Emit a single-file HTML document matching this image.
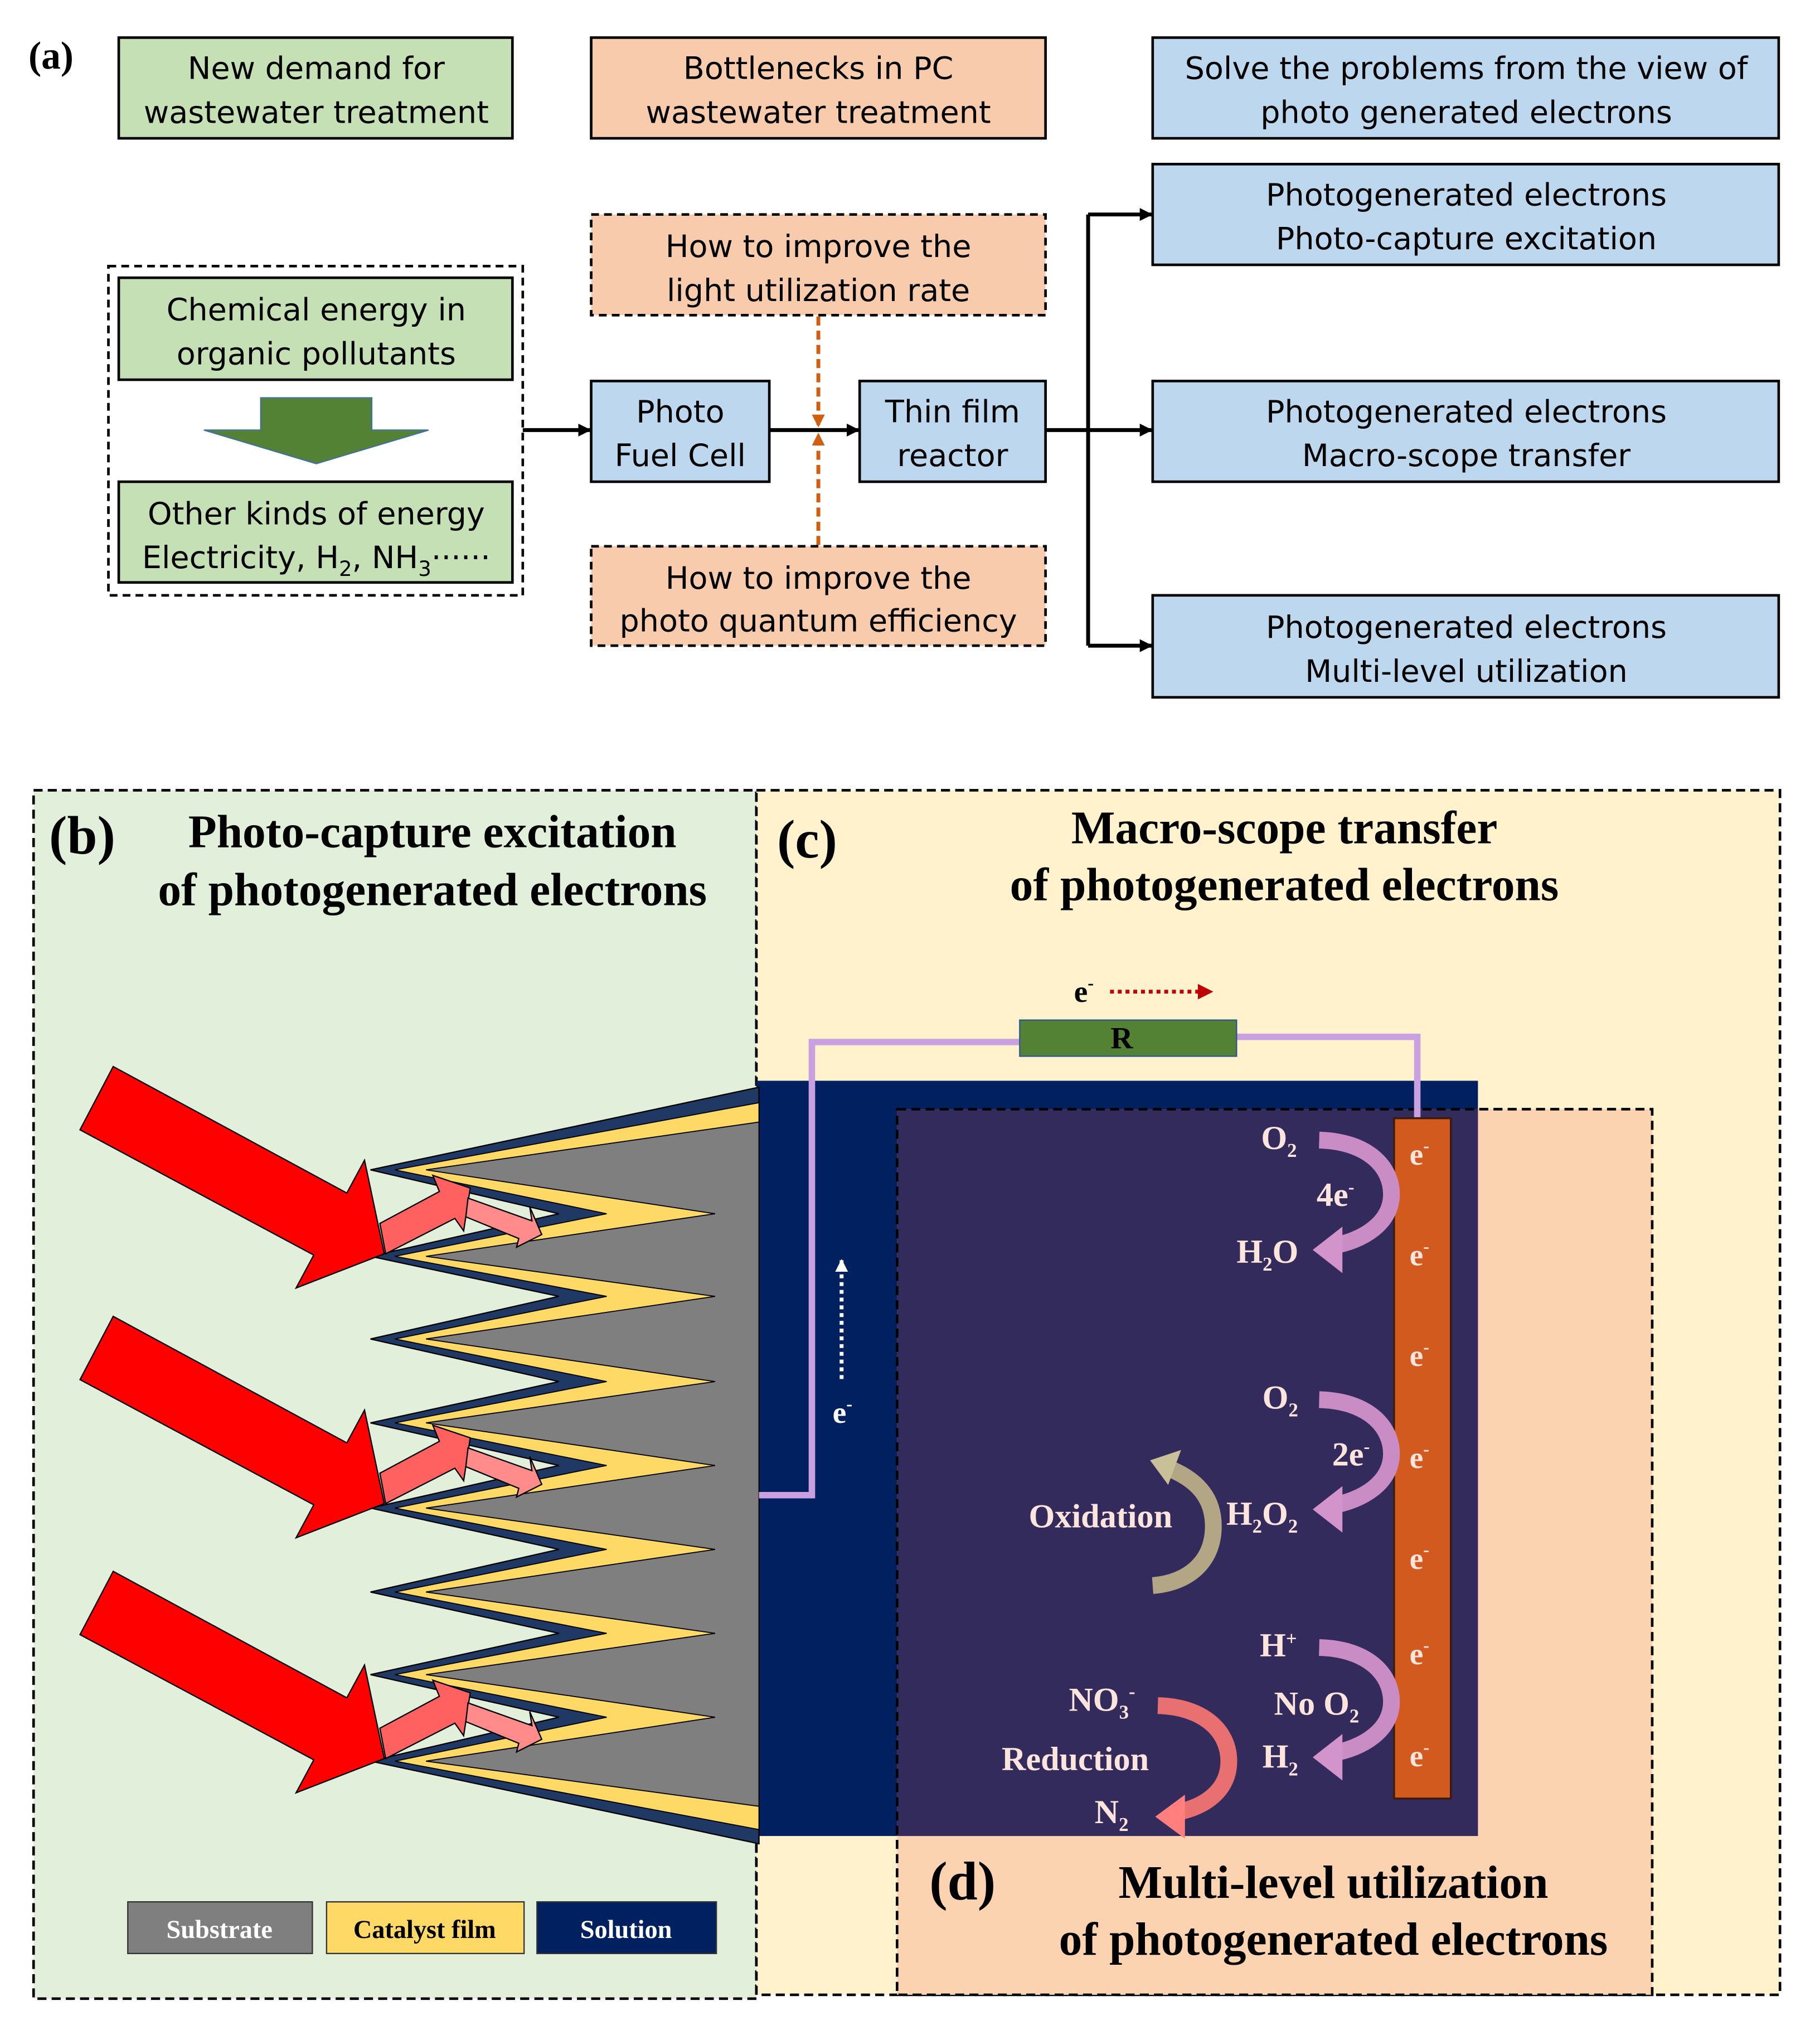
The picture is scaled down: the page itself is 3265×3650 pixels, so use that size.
<!DOCTYPE html>
<html><head><meta charset="utf-8"><style>
html,body{margin:0;padding:0;background:#fff}
svg{display:block}
.s{font-family:"DejaVu Sans","Liberation Sans",sans-serif;font-size:24px;fill:#000;text-anchor:middle}
.t{font-family:"Liberation Serif",serif;font-weight:bold;fill:#000}
.w{font-family:"Liberation Serif",serif;font-weight:bold;fill:#fde4dc;font-size:26px}
</style></head><body>
<svg width="3265" height="3650" viewBox="0 0 1410 1576" xmlns="http://www.w3.org/2000/svg">
<defs>
<marker id="ah" markerWidth="10" markerHeight="10" refX="9" refY="5" orient="auto" markerUnits="userSpaceOnUse"><path d="M0,0 L10,5 L0,10 z" fill="#000"/></marker>
<marker id="ao" markerWidth="10" markerHeight="10" refX="9" refY="5" orient="auto" markerUnits="userSpaceOnUse"><path d="M0,0 L10,5 L0,10 z" fill="#d06010"/></marker>
<marker id="ar" markerWidth="12" markerHeight="12" refX="10" refY="6" orient="auto" markerUnits="userSpaceOnUse"><path d="M0,0 L12,6 L0,12 z" fill="#c00000"/></marker>
<marker id="aw" markerWidth="10" markerHeight="10" refX="9" refY="5" orient="auto" markerUnits="userSpaceOnUse"><path d="M0,0 L10,5 L0,10 z" fill="#fff"/></marker>
</defs>
<rect width="1410" height="1576" fill="#fff"/>
<!-- (a) -->
<text x="22" y="53" class="t" font-size="30">(a)</text>
<g stroke="#000" stroke-width="2">
<rect x="92" y="29" width="305" height="78" fill="#c5e0b4"/>
<rect x="458" y="29" width="352" height="78" fill="#f8cbad"/>
<rect x="893" y="29" width="485" height="78" fill="#bdd7ee"/>
<rect x="84" y="206" width="321" height="255" fill="none" stroke-dasharray="6,4"/>
<rect x="92" y="215" width="305" height="79" fill="#c5e0b4"/>
<rect x="92" y="373" width="305" height="78" fill="#c5e0b4"/>
<rect x="458" y="295" width="138" height="78" fill="#bdd7ee"/>
<rect x="666" y="295" width="144" height="78" fill="#bdd7ee"/>
<rect x="458" y="166" width="352" height="78" fill="#f8cbad" stroke-dasharray="6,4"/>
<rect x="458" y="423" width="352" height="77" fill="#f8cbad" stroke-dasharray="6,4"/>
<rect x="893" y="127" width="485" height="78" fill="#bdd7ee"/>
<rect x="893" y="295" width="485" height="78" fill="#bdd7ee"/>
<rect x="893" y="461" width="485" height="79" fill="#bdd7ee"/>
</g>
<polygon points="202,308 288,308 288,333 332,333 245,359 158,333 202,333" fill="#548235" stroke="#41719c" stroke-width="1"/>
<g stroke="#000" stroke-width="3" fill="none">
<line x1="405" y1="333" x2="457" y2="333" marker-end="url(#ah)"/>
<line x1="596" y1="333" x2="665" y2="333" marker-end="url(#ah)"/>
<line x1="810" y1="333" x2="843" y2="333"/>
<line x1="843" y1="166" x2="843" y2="500"/>
<line x1="843" y1="166" x2="892" y2="166" marker-end="url(#ah)"/>
<line x1="843" y1="333" x2="892" y2="333" marker-end="url(#ah)"/>
<line x1="843" y1="500" x2="892" y2="500" marker-end="url(#ah)"/>
</g>
<g stroke="#d06010" stroke-width="3" stroke-dasharray="7,4" fill="none">
<line x1="634" y1="245" x2="634" y2="330" marker-end="url(#ao)"/>
<line x1="634" y1="422" x2="634" y2="336" marker-end="url(#ao)"/>
</g>
<g class="s">
<text x="245" y="61">New demand for</text><text x="245" y="95">wastewater treatment</text>
<text x="634" y="61">Bottlenecks in PC</text><text x="634" y="95">wastewater treatment</text>
<text x="1136" y="61">Solve the problems from the view of</text><text x="1136" y="95">photo generated electrons</text>
<text x="245" y="248">Chemical energy in</text><text x="245" y="282">organic pollutants</text>
<text x="245" y="406">Other kinds of energy</text><text x="245" y="440">Electricity, H<tspan font-size="16" dy="6">2</tspan><tspan dy="-6">, NH</tspan><tspan font-size="16" dy="6">3</tspan><tspan dy="-6">······</tspan></text>
<text x="527" y="327">Photo</text><text x="527" y="361">Fuel Cell</text>
<text x="738" y="327">Thin film</text><text x="738" y="361">reactor</text>
<text x="634" y="199">How to improve the</text><text x="634" y="233">light utilization rate</text>
<text x="634" y="456">How to improve the</text><text x="634" y="489">photo quantum efficiency</text>
<text x="1136" y="159">Photogenerated electrons</text><text x="1136" y="193">Photo-capture excitation</text>
<text x="1136" y="327">Photogenerated electrons</text><text x="1136" y="361">Macro-scope transfer</text>
<text x="1136" y="494">Photogenerated electrons</text><text x="1136" y="528">Multi-level utilization</text>
</g>
<!-- backgrounds -->
<rect x="26" y="612" width="560" height="936" fill="#e2efda" stroke="#000" stroke-width="2" stroke-dasharray="7,4"/>
<rect x="586" y="612" width="793" height="933" fill="#fff2cc" stroke="#000" stroke-width="2" stroke-dasharray="7,4"/>
<rect x="586" y="837" width="559" height="585" fill="#002060"/>
<rect x="695" y="859" width="585" height="686" fill="#fbd3b0"/>
<rect x="695" y="859" width="450" height="563" fill="#332b5c"/>
<rect x="695" y="859" width="585" height="686" fill="none" stroke="#000" stroke-width="2" stroke-dasharray="7,4"/>
<!-- zigzag -->
<polygon points="588,842 287,906 433,940 287,973 433,1004 287,1037 433,1070 287,1102 433,1135 287,1168 433,1200 287,1233 433,1265 287,1297 433,1330 287,1364 588,1428" fill="#1f3864" stroke="#000" stroke-width="1"/>
<polygon points="588,854 306,906 470,940 306,973 470,1004 306,1037 470,1070 306,1102 470,1135 306,1168 470,1200 306,1233 470,1265 306,1297 470,1330 306,1364 588,1417" fill="#ffd966" stroke="#000" stroke-width="0.8"/>
<polygon points="588,869 330,906 554,940 330,973 554,1004 330,1037 554,1070 330,1102 554,1135 330,1168 554,1200 330,1233 554,1265 330,1297 554,1330 330,1364 588,1399" fill="#7f7f7f" stroke="#000" stroke-width="0.8"/>
<!-- arrows -->
<g id="arr">
<polygon points="87.7,826 268.7,924 282.4,898.6 297.7,971 229.4,997.5 243.1,972 62,875" fill="#ff0000" stroke="#000" stroke-width="1"/>
<polygon points="294.3,947.5 340.4,922.8 335.3,910.3 364.3,920.1 359.2,953.3 352.4,943.6 298.8,971" fill="#ff6161" stroke="#000" stroke-width="1"/>
<polygon points="362.6,927.9 412.1,945.5 410.4,934.6 419.7,956.1 400.2,965.9 401.9,959.2 360.9,942.4" fill="#ff8b8b" stroke="#000" stroke-width="1"/>
</g>
<use href="#arr" transform="translate(0,193.5)"/>
<use href="#arr" transform="translate(0,391)"/>
<!-- wire -->
<polyline points="588,1158 629,1158 629,807 790,807" fill="none" stroke="#c9a0e0" stroke-width="5"/>
<polyline points="958,803 1098,803 1098,866" fill="none" stroke="#c9a0e0" stroke-width="5"/>
<rect x="790" y="790" width="168" height="28" fill="#548235" stroke="#2f5597" stroke-width="1"/>
<text x="869" y="812" class="t" font-size="24" text-anchor="middle">R</text>
<text x="832" y="776" class="t" font-size="24">e<tspan font-size="14" dy="-10">-</tspan></text>
<line x1="860" y1="768" x2="938" y2="768" stroke="#c00000" stroke-width="3" stroke-dasharray="3,3" marker-end="url(#ar)"/>
<line x1="652" y1="1068" x2="652" y2="976" stroke="#fff" stroke-width="3" stroke-dasharray="3,3" marker-end="url(#aw)"/>
<text x="645" y="1102" class="t" font-size="24" style="fill:#fff">e<tspan font-size="14" dy="-10">-</tspan></text>
<!-- electrode -->
<rect x="1080" y="866" width="44" height="527" fill="#d35a1e" stroke="#3a1a0a" stroke-width="1.5"/>
<g class="w" style="fill:#fde4dc;font-size:24px">
<text x="1092" y="902">e<tspan font-size="14" dy="-10">-</tspan></text>
<text x="1092" y="980">e<tspan font-size="14" dy="-10">-</tspan></text>
<text x="1092" y="1058">e<tspan font-size="14" dy="-10">-</tspan></text>
<text x="1092" y="1137">e<tspan font-size="14" dy="-10">-</tspan></text>
<text x="1092" y="1215">e<tspan font-size="14" dy="-10">-</tspan></text>
<text x="1092" y="1289">e<tspan font-size="14" dy="-10">-</tspan></text>
<text x="1092" y="1368">e<tspan font-size="14" dy="-10">-</tspan></text>
</g>
<!-- curved arrows -->
<g id="ca">
<path d="M1022,883 C1060,884 1078,904 1078,925 C1078,947 1056,961 1032,965" fill="none" stroke="#c98cc4" stroke-width="13"/>
<polygon points="1017,968 1040,950 1040,986" fill="#d394cc"/>
</g>
<use href="#ca" transform="translate(0,201)"/>
<use href="#ca" transform="translate(0,393)"/>
<path d="M893,1228 C920,1226 940,1210 940,1182 C940,1158 925,1145 905,1137" fill="none" stroke="#b3a684" stroke-width="13"/>
<polygon points="891,1131 915,1123 905,1150" fill="#c9bf98"/>
<path d="M897,1321 C934,1322 952,1342 952,1364 C952,1387 933,1400 910,1404" fill="none" stroke="#e87070" stroke-width="13"/>
<polygon points="895,1407 918,1390 918,1424" fill="#ff7f7f"/>
<g class="w">
<text x="977" y="890">O<tspan font-size="15" dy="6">2</tspan></text>
<text x="1020" y="934">4e<tspan font-size="14" dy="-10">-</tspan></text>
<text x="958" y="978">H<tspan font-size="15" dy="6">2</tspan><tspan dy="-6">O</tspan></text>
<text x="978" y="1091">O<tspan font-size="15" dy="6">2</tspan></text>
<text x="1032" y="1135">2e<tspan font-size="14" dy="-10">-</tspan></text>
<text x="950" y="1181">H<tspan font-size="15" dy="6">2</tspan><tspan dy="-6">O</tspan><tspan font-size="15" dy="6">2</tspan></text>
<text x="797" y="1183">Oxidation</text>
<text x="976" y="1283">H<tspan font-size="15" dy="-9">+</tspan></text>
<text x="987" y="1328">No O<tspan font-size="15" dy="6">2</tspan></text>
<text x="978" y="1369">H<tspan font-size="15" dy="6">2</tspan></text>
<text x="828" y="1325">NO<tspan font-size="15" dy="6">3</tspan><tspan font-size="15" dy="-16">-</tspan></text>
<text x="776" y="1371">Reduction</text>
<text x="848" y="1412">N<tspan font-size="15" dy="6">2</tspan></text>
</g>
<!-- titles -->
<text x="38" y="661" class="t" font-size="42">(b)</text>
<text x="335" y="656" class="t" font-size="36" text-anchor="middle">Photo-capture excitation</text>
<text x="335" y="701" class="t" font-size="36" text-anchor="middle">of photogenerated electrons</text>
<text x="602" y="664" class="t" font-size="42">(c)</text>
<text x="995" y="653" class="t" font-size="36" text-anchor="middle">Macro-scope transfer</text>
<text x="995" y="697" class="t" font-size="36" text-anchor="middle">of photogenerated electrons</text>
<text x="720" y="1471" class="t" font-size="42">(d)</text>
<text x="1033" y="1470" class="t" font-size="36" text-anchor="middle">Multi-level utilization</text>
<text x="1033" y="1514" class="t" font-size="36" text-anchor="middle">of photogenerated electrons</text>
<!-- legend -->
<rect x="99" y="1473" width="143" height="40" fill="#7f7f7f" stroke="#333" stroke-width="1"/>
<rect x="253" y="1473" width="153" height="40" fill="#ffd966" stroke="#333" stroke-width="1"/>
<rect x="416" y="1473" width="139" height="40" fill="#002060" stroke="#333" stroke-width="1"/>
<text x="170" y="1501" class="t" font-size="20" text-anchor="middle" style="fill:#fff">Substrate</text>
<text x="329" y="1501" class="t" font-size="20" text-anchor="middle">Catalyst film</text>
<text x="485" y="1501" class="t" font-size="20" text-anchor="middle" style="fill:#fff">Solution</text>
</svg>
</body></html>
